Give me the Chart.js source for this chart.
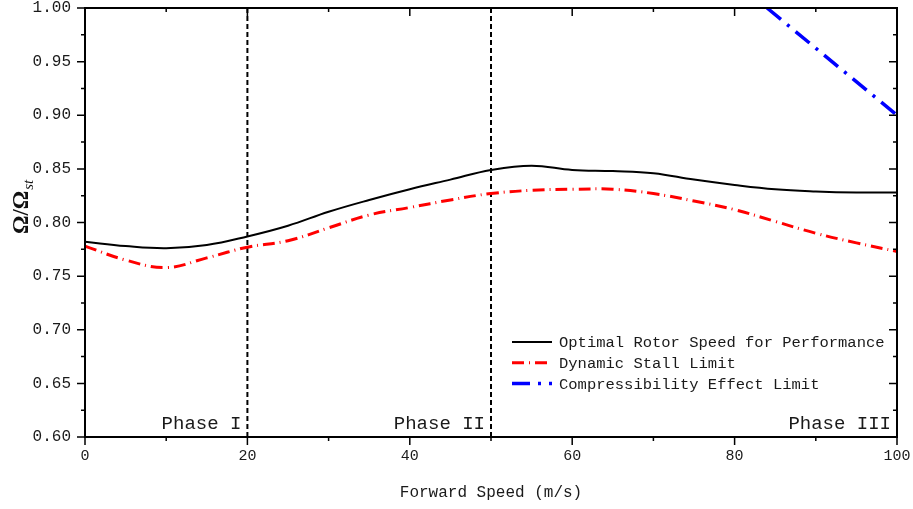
<!DOCTYPE html>
<html>
<head>
<meta charset="utf-8">
<script src="https://cdn.jsdelivr.net/npm/chart.js@4"></script>
<style>
  html, body { margin: 0; padding: 0; background: #fff; }
  #wrap { width: 913px; height: 509px; }
</style>
</head>
<body>
<div id="wrap"><canvas id="chart" width="913" height="509"></canvas></div>
<script>
// forward speed (m/s)
const speed = [0, 5, 10, 15, 20, 25, 30, 35, 40, 45, 50, 55, 60, 65, 70, 75, 80, 85, 90, 95, 100];
// Ω/Ω_st
const optimal = [0.782, 0.778, 0.776, 0.779, 0.787, 0.797, 0.810, 0.821, 0.831, 0.840, 0.849, 0.853, 0.849, 0.848, 0.846, 0.840, 0.835, 0.831, 0.829, 0.828, 0.828];
const stall = [0.778, 0.765, 0.758, 0.767, 0.777, 0.783, 0.795, 0.807, 0.814, 0.821, 0.827, 0.830, 0.831, 0.831, 0.827, 0.820, 0.812, 0.801, 0.790, 0.781, 0.773];
const compSpeed = [84, 100];
const compLimit = [1.00, 0.90];

const seriesNames = ['Optimal Rotor Speed for Performance', 'Dynamic Stall Limit', 'Compressibility Effect Limit'];
const phaseBounds = [20, 50];
const phaseNames = ['Phase I', 'Phase II', 'Phase III'];
const phaseEnds = [20, 50, 100];

const xTicks = [0, 20, 40, 60, 80, 100];
const yTicks = [0.60, 0.65, 0.70, 0.75, 0.80, 0.85, 0.90, 0.95, 1.00];

const pts = (xs, ys) => xs.map((v, i) => ({ x: v, y: ys[i] }));

const styles = [
  { color: '#000000', width: 2, dash: [] },
  { color: '#ff0000', width: 3, dash: [12, 5, 1, 5] },
  { color: '#0000ff', width: 3.5, dash: [18, 8, 3, 8] }
];

const datasets = [
  { label: seriesNames[0], data: pts(speed, optimal), borderColor: styles[0].color, borderWidth: styles[0].width, borderDash: styles[0].dash, tension: 0.4 },
  { label: seriesNames[1], data: pts(speed, stall), borderColor: styles[1].color, borderWidth: styles[1].width, borderDash: styles[1].dash, tension: 0.4 },
  { label: seriesNames[2], data: pts(compSpeed, compLimit), borderColor: styles[2].color, borderWidth: styles[2].width, borderDash: styles[2].dash, tension: 0 }
];
phaseBounds.forEach(b => {
  datasets.push({ label: '', data: pts([b, b], [0.60, 1.00]), borderColor: '#000', borderWidth: 2, borderDash: [5, 3], tension: 0 });
});

const MONO = '"Liberation Mono", "DejaVu Sans Mono", monospace';
const TXT = '#1a1a1a';

// frame, ticks, legend, phase labels, y title
const decor = {
  id: 'decor',
  afterDatasetsDraw(chart) {
    const { ctx, chartArea: a, scales: { x, y } } = chart;
    ctx.save();
    ctx.strokeStyle = '#000';
    ctx.lineWidth = 2;
    ctx.setLineDash([]);
    ctx.strokeRect(a.left, a.top, a.right - a.left, a.bottom - a.top);

    ctx.lineWidth = 1.5;
    ctx.beginPath();
    for (let i = 0; i <= 10; i++) {
      const px = x.getPixelForValue(i * 10);
      const len = i % 2 === 0 ? 8 : 4;
      ctx.moveTo(px, a.bottom); ctx.lineTo(px, a.bottom + len);
      ctx.moveTo(px, a.top); ctx.lineTo(px, a.top + len);
    }
    for (let i = 0; i <= 16; i++) {
      const py = y.getPixelForValue(0.6 + i * 0.025);
      const len = i % 2 === 0 ? 8 : 4;
      ctx.moveTo(a.left, py); ctx.lineTo(a.left - len, py);
      ctx.moveTo(a.right, py); ctx.lineTo(a.right - len, py);
    }
    ctx.stroke();

    // phase labels
    ctx.fillStyle = TXT;
    ctx.font = '19px ' + MONO;
    ctx.textAlign = 'right';
    ctx.textBaseline = 'middle';
    phaseNames.forEach((t, i) => {
      ctx.fillText(t, x.getPixelForValue(phaseEnds[i]) - 6, y.getPixelForValue(0.6) - 13);
    });

    // legend
    ctx.font = '15.5px ' + MONO;
    ctx.textAlign = 'left';
    const lx = 512, ly = 342, row = 20.7;
    seriesNames.forEach((t, i) => {
      const s = styles[i];
      const yy = ly + i * row;
      ctx.strokeStyle = s.color;
      ctx.lineWidth = s.width;
      ctx.setLineDash(s.dash);
      ctx.beginPath();
      ctx.moveTo(lx, yy); ctx.lineTo(lx + 40, yy);
      ctx.stroke();
      ctx.fillText(t, lx + 47, yy + 1);
    });

    // y title Ω/Ω_st
    ctx.setLineDash([]);
    ctx.translate(28, 234);
    ctx.rotate(-Math.PI / 2);
    ctx.fillStyle = '#111';
    ctx.textBaseline = 'alphabetic';
    ctx.font = 'bold 23px "Liberation Serif", "DejaVu Serif", serif';
    ctx.fillText('Ω/Ω', 0, 0);
    const w = ctx.measureText('Ω/Ω').width;
    ctx.font = 'italic 15px "Liberation Serif", "DejaVu Serif", serif';
    ctx.fillText('st', w + 1, 5);
    ctx.restore();
  }
};

new Chart(document.getElementById('chart').getContext('2d'), {
  type: 'line',
  data: { datasets },
  plugins: [decor],
  options: {
    responsive: false,
    animation: false,
    events: [],
    layout: { autoPadding: false, padding: { top: 8, right: 16, left: 0, bottom: 0 } },
    elements: { point: { radius: 0 } },
    plugins: { legend: { display: false }, tooltip: { enabled: false } },
    scales: {
      x: {
        type: 'linear',
        min: 0, max: 100,
        afterBuildTicks: s => { s.ticks = xTicks.map(v => ({ value: v })); },
        afterFit: s => { s.height = 72; s.paddingLeft = 0; s.paddingRight = 0; },
        grid: { display: false },
        border: { display: false },
        ticks: { font: { family: MONO, size: 15 }, color: TXT, padding: 2, maxRotation: 0 },
        title: { display: true, text: 'Forward Speed (m/s)', font: { family: MONO, size: 16 }, color: TXT, padding: { top: 0, bottom: 7 } }
      },
      y: {
        min: 0.6, max: 1.0,
        afterBuildTicks: s => { s.ticks = yTicks.map(v => ({ value: v })); },
        afterFit: s => { s.width = 85; s.paddingTop = 0; s.paddingBottom = 0; },
        grid: { display: false },
        border: { display: false },
        ticks: { font: { family: MONO, size: 16 }, color: TXT, padding: 6, callback: v => v.toFixed(2) }
      }
    }
  }
});
</script>
</body>
</html>
